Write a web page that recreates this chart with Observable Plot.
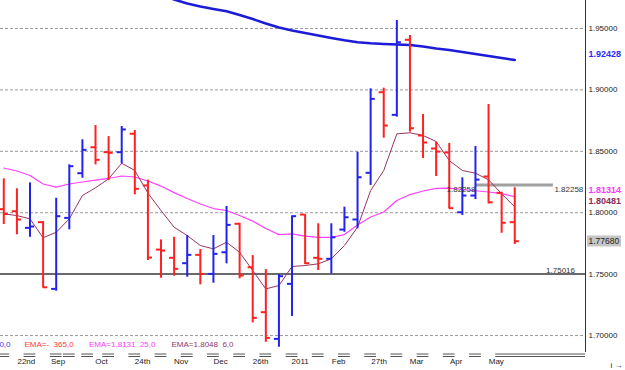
<!DOCTYPE html>
<html><head><meta charset="utf-8">
<script src="https://cdn.jsdelivr.net/npm/d3@7"></script>
<script src="https://cdn.jsdelivr.net/npm/@observablehq/plot@0.6"></script>
<style>body{margin:0;background:#fff} svg{display:block} svg text{white-space:pre}</style>
</head><body><div id="chart"></div>
<script>
// Weekly OHLC values
const open  = [1.8029,1.8012,1.7877,1.7923,1.7380,1.7958,1.8322,1.8533,1.8493,1.8493,1.8643,1.8222,1.7700,1.7633,1.7589,1.7657,1.7502,1.7678,1.7910,1.7556,1.7190,1.6973,1.7421,1.7985,1.7633,1.7625,1.7863,1.7945,1.8325,1.8981,1.8797,1.9408,1.8629,1.8523,1.8490,1.8004,1.8140,1.8295,1.8162,1.7923];
const high  = [1.8276,1.8195,1.8243,1.7928,1.8118,1.8390,1.8594,1.8710,1.8620,1.8702,1.8669,1.8266,1.7779,1.7800,1.7814,1.7700,1.7814,1.8051,1.7915,1.7651,1.7537,1.7497,1.7972,1.7985,1.7910,1.7910,1.8045,1.8493,1.9009,1.9014,1.9565,1.9443,1.8800,1.8576,1.8564,1.8284,1.8539,1.8881,1.8167,1.8203];
const low   = [1.7904,1.7820,1.7800,1.7388,1.7361,1.7861,1.8281,1.8390,1.8262,1.8398,1.8146,1.7611,1.7467,1.7483,1.7475,1.7413,1.7426,1.7584,1.7462,1.7103,1.6945,1.6905,1.7155,1.7578,1.7529,1.7502,1.7841,1.7869,1.8222,1.8607,1.8778,1.8656,1.8441,1.8295,1.8032,1.7977,1.8107,1.8072,1.7833,1.7741];
const close = [1.7990,1.7945,1.7888,1.7393,1.7972,1.8379,1.8512,1.8431,1.8488,1.8678,1.8195,1.7635,1.7692,1.7543,1.7657,1.7502,1.7665,1.7901,1.7489,1.7144,1.6981,1.7483,1.7972,1.7589,1.7625,1.7800,1.7963,1.8289,1.8927,1.8710,1.9388,1.8688,1.8572,1.8498,1.8037,1.8140,1.8270,1.8085,1.7918,1.7768];

// Moving averages
const ema365 = [null,null,null,null,null,null,null,null,null,null,null,null,1.9775,1.9736,1.9704,1.9679,1.9659,1.9640,1.9610,1.9577,1.9541,1.9508,1.9484,1.9463,1.9443,1.9423,1.9404,1.9388,1.9379,1.9374,1.9370,1.9366,1.9353,1.9337,1.9325,1.9309,1.9292,1.9276,1.9260,1.9243];
const ema25  = [1.8364,1.8340,1.8303,1.8234,1.8209,1.8234,1.8250,1.8266,1.8279,1.8299,1.8291,1.8258,1.8217,1.8164,1.8116,1.8071,1.8034,1.8018,1.7977,1.7932,1.7871,1.7822,1.7828,1.7810,1.7800,1.7800,1.7822,1.7900,1.7965,1.8006,1.8100,1.8148,1.8177,1.8199,1.8201,1.8189,1.8179,1.8169,1.8156,1.8131];
const ema6   = [1.7991,1.7977,1.7950,1.7796,1.7841,1.7950,1.8140,1.8203,1.8276,1.8403,1.8344,1.8160,1.8018,1.7882,1.7814,1.7733,1.7706,1.7760,1.7678,1.7529,1.7380,1.7407,1.7562,1.7570,1.7584,1.7625,1.7733,1.7882,1.8181,1.8344,1.8642,1.8651,1.8629,1.8580,1.8425,1.8344,1.8322,1.8268,1.8154,1.8048];

// Axis ticks
const yTicks = [1.70, 1.75, 1.80, 1.85, 1.90, 1.95];
const xTickPos = [1.72, 4.14, 7.46, 10.59, 13.53, 16.55, 19.6, 22.62, 25.56, 28.65, 31.51, 34.53, 37.59];
const xTickLabels = ["22nd","Sep","Oct","24th","Nov","Dec","26th","2011","Feb","27th","Mar","Apr","May"];
const periodMarks = [0,2,4,5,6.4,8,10,12,14,16,18,20,22,24,26,28,30,32,34,36];

// Levels and last values
const supportLevel = 1.75016;
const resistLevel = 1.82258;
const resistStart = 36;
const lastBlue = 1.92428, lastMagenta = 1.81314, lastMaroon = 1.80481, lastPrice = 1.77680;
const legendTexts = ["0,0", "EMA=-  365,0", "EMA=1.8131  25,0", "EMA=1.8048  6,0"];

const RED = "#ff2020", BLUE = "#2222ee", MAG = "#ff40ff", MAROON = "#993366", NAVY = "#1c1cd8";
const X_MIN = -0.252, X_MAX = 44.4, Y_MIN = 1.6862, Y_MAX = 1.9728;

const bars = open.map((o, i) => ({i, o, h: high[i], l: low[i], c: close[i], up: close[i] >= o}));
const toPts = arr => arr.map((v, i) => ({i, v})).filter(d => d.v != null);
const f5 = d3.format(".5f");

const chart = Plot.plot({
  width: 625, height: 370,
  marginLeft: 0, marginRight: 40, marginTop: 0, marginBottom: 18,
  style: {fontFamily: "'Liberation Sans', Arial, sans-serif", fontSize: "8px", background: "#fff", color: "#222"},
  x: {domain: [X_MIN, X_MAX]},
  y: {domain: [Y_MIN, Y_MAX]},
  marks: [
    Plot.ruleY(yTicks, {stroke: "#9a9a9a", strokeDasharray: "3,2", strokeWidth: 1}),
    Plot.ruleY([supportLevel], {stroke: "#6a6a6a", strokeWidth: 2}),
    Plot.ruleY([resistLevel], {x1: () => resistStart, x2: () => 41.95, stroke: "#a0a0a0", strokeWidth: 3}),
    Plot.line(toPts(ema365), {x: "i", y: "v", stroke: NAVY, strokeWidth: 2.5, clip: true}),
    Plot.line(toPts(ema25), {x: "i", y: "v", stroke: MAG, strokeWidth: 1.2}),
    Plot.line(toPts(ema6), {x: "i", y: "v", stroke: MAROON, strokeWidth: 1}),
    Plot.ruleX(bars, {x: "i", y1: "l", y2: "h", stroke: d => d.up ? BLUE : RED, strokeWidth: 2}),
    Plot.ruleY(bars, {y: "o", x1: d => d.i - 0.35, x2: d => d.i, stroke: d => d.up ? BLUE : RED, strokeWidth: 2}),
    Plot.ruleY(bars, {y: "c", x1: d => d.i, x2: d => d.i + 0.35, stroke: d => d.up ? BLUE : RED, strokeWidth: 2}),
    Plot.text([resistLevel], {x: () => resistStart, y: d => d, text: d => f5(d), textAnchor: "end", lineAnchor: "top", dy: 1, fill: "#333", fontSize: 8}),
    Plot.text([resistLevel], {x: () => 41.95, y: d => d, text: d => f5(d), textAnchor: "start", lineAnchor: "top", dy: 1, dx: 1, fill: "#333", fontSize: 8}),
    Plot.text([supportLevel], {x: () => 43.6, y: d => d, text: d => f5(d), textAnchor: "end", lineAnchor: "bottom", dy: -1, fill: "#333", fontSize: 8}),
    Plot.ruleX([X_MAX], {stroke: "#333", strokeWidth: 1}),
    Plot.axisY({anchor: "right", ticks: yTicks, tickFormat: f5, tickSize: 0, tickPadding: 3, fontSize: 8, fill: "#222"}),
    Plot.axisX({ticks: xTickPos, tickFormat: d => xTickLabels[xTickPos.indexOf(d)], tickSize: 0, tickPadding: 6, fontSize: 8, fill: "#222"}),
    Plot.ruleY(periodMarks, {y: () => Y_MIN, x1: d => d - 0.45, x2: d => d + 0.45, dy: 1.5, stroke: "#555", strokeWidth: 1}),
    Plot.ruleY(periodMarks, {y: () => Y_MIN, x1: d => d - 0.45, x2: d => d + 0.45, dy: 4, stroke: "#555", strokeWidth: 1}),
    Plot.ruleY([37.55], {y: () => Y_MIN, x1: d => d, x2: () => X_MAX, dy: 1.5, stroke: "#555", strokeWidth: 1}),
    Plot.ruleY([37.55], {y: () => Y_MIN, x1: d => d, x2: () => X_MAX, dy: 4, stroke: "#555", strokeWidth: 1}),
    Plot.text([legendTexts[0]], {frameAnchor: "bottom-left", dx: 10, dy: -6, textAnchor: "end", fill: "#3a3af0", fontSize: 8}),
    Plot.text([legendTexts[1]], {frameAnchor: "bottom-left", dx: 24, dy: -6, textAnchor: "start", fill: "#ff3a3a", fontSize: 8}),
    Plot.text([legendTexts[2]], {frameAnchor: "bottom-left", dx: 88.5, dy: -6, textAnchor: "start", fill: "#ff3aff", fontSize: 8}),
    Plot.text([legendTexts[3]], {frameAnchor: "bottom-left", dx: 171, dy: -6, textAnchor: "start", fill: MAROON, fontSize: 8}),
    Plot.text([lastBlue], {x: () => X_MAX, y: d => d, text: d => f5(d), dx: 3, dy: -5.5, textAnchor: "start", fill: "#2a2aff", fontWeight: "bold", fontSize: 9}),
    Plot.text([lastMagenta], {x: () => X_MAX, y: d => d, text: d => f5(d), dx: 3, dy: -6, textAnchor: "start", fill: "#ff33ff", fontWeight: "bold", fontSize: 9}),
    Plot.text([lastMaroon], {x: () => X_MAX, y: d => d, text: d => f5(d), dx: 3, dy: -5.5, textAnchor: "start", fill: "#8b2a55", fontWeight: "bold", fontSize: 9}),
    Plot.text([lastPrice], {x: () => X_MAX, y: d => d, text: d => f5(d), dx: 3, dy: 0, textAnchor: "start", fill: "#222", fontSize: 8.5})
  ]
});
document.getElementById("chart").appendChild(chart);

// grey box behind the last price label
d3.select(chart).selectAll("text").each(function() {
  if (this.textContent === f5(lastPrice)) {
    const b = this.getBBox();
    const t = this.getAttribute("transform");
    const r = d3.select(this.parentNode).insert("rect", () => this)
      .attr("x", b.x - 1.5).attr("y", b.y - 0.5)
      .attr("width", b.width + 3).attr("height", b.height + 1)
      .attr("fill", "#c6c6c6");
    if (t) r.attr("transform", t);
  }
});
</script>
</body></html>
